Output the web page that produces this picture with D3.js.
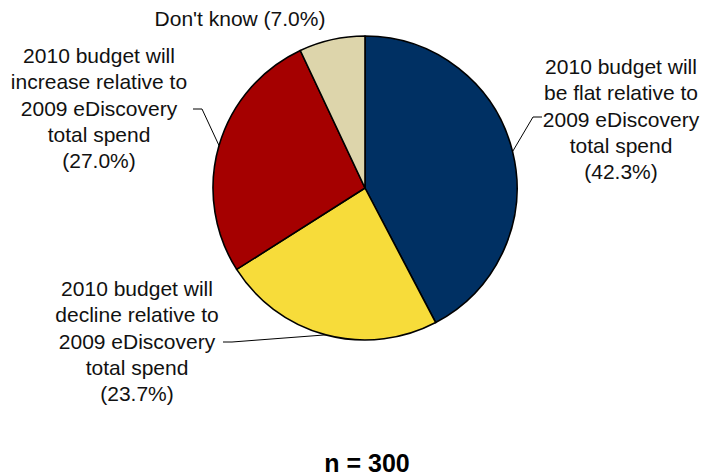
<!DOCTYPE html>
<html>
<head>
<meta charset="utf-8">
<script src="https://cdn.jsdelivr.net/npm/d3@7"></script>
<style>
  body { margin: 0; background: #fff; }
  text { font-family: "Liberation Sans", Arial, sans-serif; }
</style>
</head>
<body>
<svg id="chart"></svg>
<script>
const width = 702, height = 476;

// Data
const categories = ["flat", "decline", "increase", "dontknow"];
const shares = [42.3, 23.7, 27.0, 7.0];
const labelLines = [
    ["2010 budget will", "be flat relative to", "2009 eDiscovery", "total spend", "(42.3%)"],
    ["2010 budget will", "decline relative to", "2009 eDiscovery", "total spend", "(23.7%)"],
    ["2010 budget will", "increase relative to", "2009 eDiscovery", "total spend", "(27.0%)"],
    ["Don't know (7.0%)"]
];
const sliceColors = ["#003063", "#F7DC3A", "#A50000", "#DDD5AB"];
const footnote = "n = 300";

// Layout
const cx = 365, cy = 188, r = 152;
const fontSize = 21, lineH = 26.3;
// label anchor (center x, first baseline y) and leader elbow for each slice
const labelPos = [
    { x: 621, y: 74, leader: [[542, 117], [533, 117]] },
    { x: 137, y: 296, leader: [[223, 342], [232, 342]] },
    { x: 99, y: 63, leader: [[193, 109], [202, 109]] },
    { x: 240, y: 26, leader: null }
];

const svg = d3.select("#chart")
    .attr("width", width)
    .attr("height", height);

const pie = d3.pie().sort(null).value(d => d)(shares);
const arc = d3.arc().innerRadius(0).outerRadius(r);

const g = svg.append("g").attr("transform", `translate(${cx},${cy})`);

g.selectAll("path")
    .data(pie)
    .join("path")
    .attr("d", arc)
    .attr("fill", (d, i) => sliceColors[i])
    .attr("stroke", "#000")
    .attr("stroke-width", 1.6)
    .attr("stroke-linejoin", "round");

// Leader lines to the middle of each slice's outer edge
pie.forEach((d, i) => {
    const lp = labelPos[i];
    if (!lp.leader) return;
    const mid = (d.startAngle + d.endAngle) / 2;
    const end = [cx + r * Math.sin(mid), cy - r * Math.cos(mid)];
    svg.append("path")
        .attr("d", d3.line()([...lp.leader, end]))
        .attr("fill", "none")
        .attr("stroke", "#000")
        .attr("stroke-width", 1);
});

// Labels
labelLines.forEach((lines, i) => {
    const lp = labelPos[i];
    const t = svg.append("text")
        .attr("text-anchor", "middle")
        .attr("font-size", fontSize)
        .attr("fill", "#111");
    lines.forEach((line, j) => {
        t.append("tspan")
            .attr("x", lp.x)
            .attr("y", lp.y + j * lineH)
            .text(line);
    });
});

svg.append("text")
    .attr("x", 367)
    .attr("y", 472)
    .attr("text-anchor", "middle")
    .attr("font-size", 25)
    .attr("font-weight", "bold")
    .text(footnote);
</script>
</body>
</html>
